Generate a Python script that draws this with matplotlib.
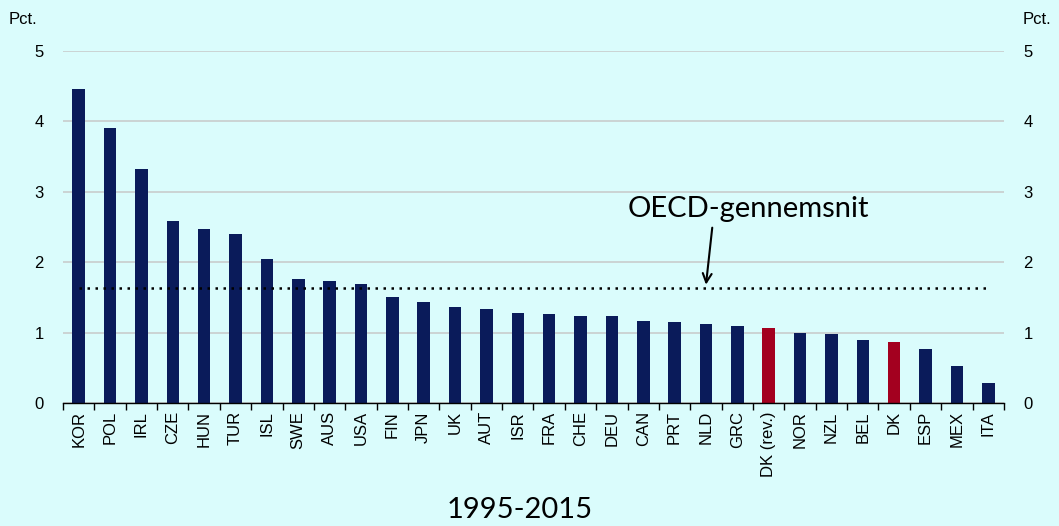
import matplotlib
matplotlib.use("Agg")
import matplotlib.pyplot as plt
import numpy as np

countries = ["KOR", "POL", "IRL", "CZE", "HUN", "TUR", "ISL", "SWE", "AUS", "USA",
             "FIN", "JPN", "UK", "AUT", "ISR", "FRA", "CHE", "DEU", "CAN", "PRT",
             "NLD", "GRC", "DK (rev.)", "NOR", "NZL", "BEL", "DK", "ESP", "MEX", "ITA"]
values = [4.46, 3.91, 3.32, 2.59, 2.47, 2.40, 2.05, 1.76, 1.73, 1.69,
          1.51, 1.44, 1.36, 1.34, 1.28, 1.27, 1.24, 1.23, 1.17, 1.155,
          1.12, 1.09, 1.07, 1.00, 0.98, 0.90, 0.87, 0.76, 0.52, 0.29]
highlight = ["DK (rev.)", "DK"]
oecd_avg = 1.63
yticks = [0, 1, 2, 3, 4, 5]
period_label = "1995-2015"
avg_label = "OECD-gennemsnit"

bg = "#dafcfc"
navy = "#0a1b5a"
red = "#a3001f"

fig = plt.figure(figsize=(10.59, 5.26), dpi=100, facecolor=bg)
ax = fig.add_axes([0.0595, 0.234, 0.8885, 0.669])
ax.set_facecolor(bg)

x = np.arange(len(countries))
colors = [red if c in highlight else navy for c in countries]
ax.bar(x, values, width=0.4, color=colors, zorder=3)

ax.set_xlim(-0.5, len(countries) - 0.5)
ax.set_ylim(0, 5)
ax.set_yticks(yticks)
ax.grid(axis="y", color="#c9cccc", linewidth=1.2, zorder=0)
for s in ["left", "right", "top"]:
    ax.spines[s].set_visible(False)
ax.spines["bottom"].set_color("black")
ax.spines["bottom"].set_linewidth(1.0)
ax.spines["bottom"].set_zorder(4)

ax.tick_params(axis="y", length=0, labelsize=12, pad=14, labelfontfamily="Liberation Sans")
ax.set_yticklabels([str(v) for v in yticks])
ax.set_xticks(x)
ax.set_xticklabels(countries, rotation=90, fontsize=12, family="Liberation Sans")
ax.tick_params(axis="x", which="major", length=0, pad=6)
ax.set_xticks(np.arange(-0.5, len(countries), 1.0), minor=True)
ax.tick_params(axis="x", which="minor", length=5, width=1, color="black", direction="out")

ax2 = ax.twinx()
ax2.set_ylim(0, 5)
ax2.set_yticks(yticks)
ax2.set_yticklabels([str(v) for v in yticks])
ax2.tick_params(axis="y", length=0, labelsize=12, pad=14, labelfontfamily="Liberation Sans")
for s in ["left", "right", "top", "bottom"]:
    ax2.spines[s].set_visible(False)

ax.plot([x[0], x[-1]], [oecd_avg, oecd_avg], linestyle=(0, (1, 2.2)), color="black",
        linewidth=1.8, zorder=4)

ax.text(21.35, 2.75, avg_label, fontsize=21, family="Lato", ha="center", va="center")
ax.annotate("", xy=(20.0, oecd_avg + 0.05), xytext=(20.2, 2.49),
            arrowprops=dict(arrowstyle="->", color="black", lw=1.5,
                            shrinkA=0, shrinkB=0, mutation_scale=16))

fig.text(0.008, 0.962, "Pct.", fontsize=12, family="Liberation Sans", ha="left", va="center")
fig.text(0.993, 0.962, "Pct.", fontsize=12, family="Liberation Sans", ha="right", va="center")
fig.text(0.491, 0.03, period_label, fontsize=21, family="Lato", ha="center", va="center")

fig.savefig("out.png", dpi=100, facecolor=bg)
